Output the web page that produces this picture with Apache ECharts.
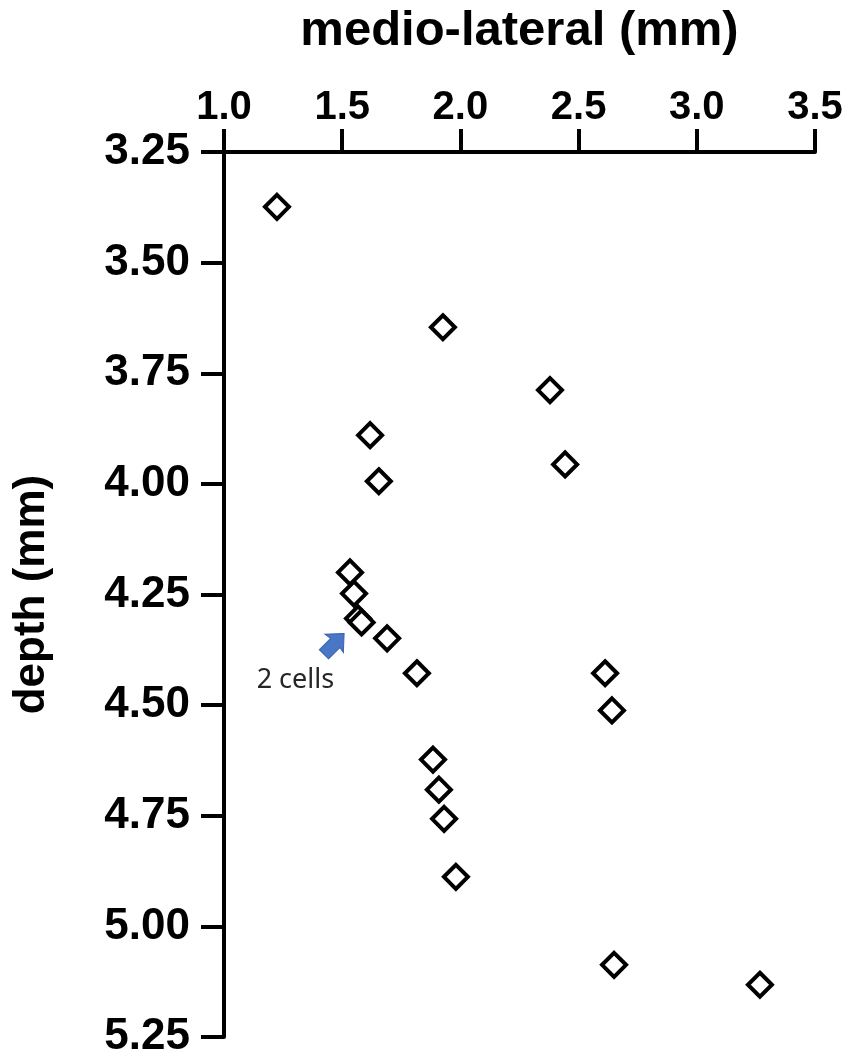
<!DOCTYPE html>
<html>
<head>
<meta charset="utf-8">
<script src="https://cdn.jsdelivr.net/npm/echarts@6/dist/echarts.min.js"></script>
<style>
  html, body { margin: 0; padding: 0; background: #fff; }
  #chart { width: 851px; height: 1059px; }
</style>
</head>
<body>
<div id="chart"></div>
<script>
// medio-lateral position (mm) of each cell
var mlValues = [1.224, 1.926, 2.379, 1.618, 2.443, 1.655, 1.533, 1.550, 1.567, 1.582,
                1.690, 1.816, 2.612, 2.641, 1.884, 1.909, 1.931, 1.981, 2.650, 3.267]
// depth (mm) of each cell
var depthValues = [3.374, 3.646, 3.788, 3.890, 3.956, 3.994, 4.200, 4.248, 4.304, 4.313,
                   4.349, 4.428, 4.428, 4.512, 4.623, 4.691, 4.757, 4.888, 5.087, 5.132]
// axis ranges / tick steps
var xRange = [1.0, 3.5]
var xStep = 0.5
var yRange = [3.25, 5.25]
var yStep = 0.25
// annotation: arrow tip and label position in data units
var noteText = '2 cells'
var noteArrowTip = [1.508, 4.338]
var noteLabelAt = [1.302, 4.444]

var points = mlValues.map(function (v, i) {
  return [v, depthValues[i]]
})

var fontFam = '"Liberation Sans", Arial, sans-serif'
var axisColor = '#000'

var myChart = echarts.init(document.getElementById('chart'))
var option = {
  animation: false,
  backgroundColor: '#fff',
  grid: {
    left: 224,
    right: 36,
    top: 152,
    bottom: 22,
    containLabel: false,
    outerBoundsMode: 'none'
  },
  xAxis: {
    type: 'value',
    position: 'top',
    min: xRange[0],
    max: xRange[1],
    interval: xStep,
    name: 'medio-lateral (mm)',
    nameLocation: 'middle',
    nameGap: 96,
    nameTextStyle: {
      color: '#000',
      fontFamily: fontFam,
      fontWeight: 'bold',
      fontSize: 49
    },
    axisLine: { show: true, onZero: false, lineStyle: { color: axisColor, width: 4 } },
    axisTick: { show: true, inside: false, length: 23, lineStyle: { color: axisColor, width: 4 } },
    axisLabel: {
      margin: 24,
      color: '#000',
      fontFamily: fontFam,
      fontWeight: 'bold',
      fontSize: 40,
      formatter: function (v) { return v.toFixed(1) }
    },
    splitLine: { show: false }
  },
  yAxis: {
    type: 'value',
    inverse: true,
    min: yRange[0],
    max: yRange[1],
    interval: yStep,
    name: 'depth (mm)',
    nameLocation: 'middle',
    nameGap: 170,
    nameTextStyle: {
      color: '#000',
      fontFamily: fontFam,
      fontWeight: 'bold',
      fontSize: 44
    },
    axisLine: { show: true, onZero: false, lineStyle: { color: axisColor, width: 4 } },
    axisTick: { show: true, inside: false, length: 23, lineStyle: { color: axisColor, width: 4 } },
    axisLabel: {
      margin: 34,
      color: '#000',
      fontFamily: fontFam,
      fontWeight: 'bold',
      fontSize: 44,
      formatter: function (v) { return v.toFixed(2) }
    },
    splitLine: { show: false }
  },
  series: [
    {
      type: 'scatter',
      data: points,
      symbol: 'diamond',
      symbolSize: 24,
      itemStyle: {
        color: '#fff',
        borderColor: '#000',
        borderWidth: 4,
        opacity: 1
      }
    }
  ]
}
myChart.setOption(option)

// annotation (arrow + label) placed from data coordinates
var tip = myChart.convertToPixel({ gridIndex: 0 }, noteArrowTip)
var lab = myChart.convertToPixel({ gridIndex: 0 }, noteLabelAt)
myChart.setOption({
  graphic: [
    {
      type: 'polygon',
      x: tip[0],
      y: tip[1],
      rotation: Math.PI / 4,
      shape: {
        points: [[0, 0], [-14, -13], [-13, -6], [-29, -6], [-29, 7], [-13, 7], [-14, 13]]
      },
      style: { fill: '#4a76c6', stroke: '#3a62ad', lineWidth: 1 },
      z: 10
    },
    {
      type: 'text',
      x: lab[0],
      y: lab[1],
      style: {
        text: noteText,
        fill: '#262626',
        font: '27px "Noto Sans", "Open Sans", sans-serif',
        textAlign: 'center',
        textVerticalAlign: 'middle'
      },
      z: 10
    }
  ]
})
</script>
</body>
</html>
